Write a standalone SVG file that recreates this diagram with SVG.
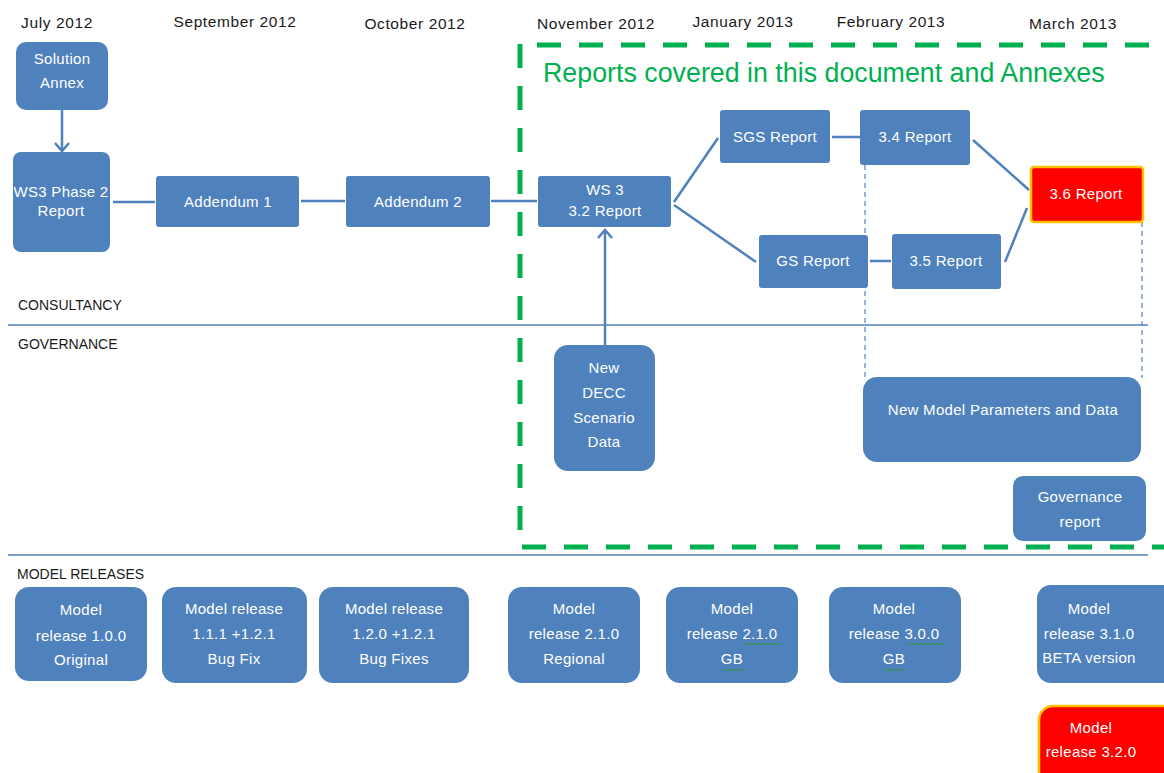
<svg xmlns="http://www.w3.org/2000/svg" width="1164" height="773" viewBox="0 0 1164 773">
<style>
.box{fill:#4F81BD;}
.red{fill:#FF0000;stroke:#FFC000;stroke-width:2.5;}
.t{font-family:"Liberation Sans",Arial,sans-serif;font-size:15px;fill:#FFFFFF;text-anchor:middle;letter-spacing:0.3px;}
.hdr{font-family:"Liberation Sans",Arial,sans-serif;font-size:15.5px;fill:#1a1a1a;text-anchor:middle;letter-spacing:0.6px;}
.lbl{font-family:"Liberation Sans",Arial,sans-serif;font-size:14px;fill:#1a1a1a;}
.con{stroke:#4F81BD;stroke-width:2.5;fill:none;}
.sep{stroke:#4F81BD;stroke-width:1.5;fill:none;}
.dash{stroke:#4F81BD;stroke-width:1.2;stroke-dasharray:5,4;fill:none;}
.green{stroke:#00B050;stroke-width:5;stroke-dasharray:24,18;fill:none;}
.sq{stroke:#2E9B2E;stroke-width:1;fill:none;}
</style>
<rect width="1164" height="773" fill="#FFFFFF"/>

<g id="headers">
<text class="hdr" x="57" y="28">July 2012</text>
<text class="hdr" x="235" y="27">September 2012</text>
<text class="hdr" x="415" y="29">October 2012</text>
<text class="hdr" x="596" y="29">November 2012</text>
<text class="hdr" x="743" y="27">January 2013</text>
<text class="hdr" x="891" y="27">February 2013</text>
<text class="hdr" x="1073" y="29">March 2013</text>
</g>

<g id="lanes">
<line class="sep" x1="8" y1="325" x2="1148" y2="325"/>
<line class="sep" x1="8" y1="555" x2="1148" y2="555"/>
<text class="lbl" x="18" y="310">CONSULTANCY</text>
<text class="lbl" x="18" y="349">GOVERNANCE</text>
<text class="lbl" x="17" y="579">MODEL RELEASES</text>
</g>

<g id="scope">
<line class="green" x1="520" y1="44" x2="520" y2="548"/>
<line class="green" x1="537" y1="45" x2="1164" y2="45"/>
<line class="green" x1="522" y1="547" x2="1164" y2="547"/>
<text x="543" y="82" font-family="Liberation Sans, Arial, sans-serif" font-size="26.8px" fill="#00B050">Reports covered in this document and Annexes</text>
</g>

<g id="connectors">
<line class="con" x1="62" y1="110" x2="62" y2="150"/>
<polyline class="con" points="55,143 62,151 69,143"/>
<line class="con" x1="113" y1="202" x2="155" y2="202"/>
<line class="con" x1="301" y1="201" x2="345" y2="201"/>
<line class="con" x1="491" y1="201" x2="537" y2="201"/>
<line class="con" x1="674" y1="202" x2="718" y2="138"/>
<line class="con" x1="674" y1="205" x2="756" y2="262"/>
<line class="con" x1="832" y1="137" x2="860" y2="137"/>
<line class="con" x1="870" y1="261" x2="891" y2="261"/>
<line class="con" x1="973" y1="140" x2="1029" y2="190"/>
<line class="con" x1="1005" y1="262" x2="1027" y2="208"/>
<line class="con" x1="605" y1="345" x2="605" y2="230"/>
<polyline class="con" points="598,238 605,230 612,238"/>
<line class="dash" x1="865" y1="165" x2="865" y2="378"/>
<line class="dash" x1="1142" y1="222" x2="1142" y2="378"/>
</g>

<g id="solution-annex">
<rect class="box" x="16" y="42" width="92" height="68" rx="10"/>
<text class="t" x="62" y="64">Solution</text>
<text class="t" x="62" y="88">Annex</text>
</g>
<g id="ws3-phase2">
<rect class="box" x="13" y="152" width="97" height="100" rx="8"/>
<text class="t" x="61" y="197">WS3 Phase 2</text>
<text class="t" x="61" y="216">Report</text>
</g>
<g id="addendum1">
<rect class="box" x="156" y="176" width="143" height="51" rx="3"/>
<text class="t" x="228" y="207">Addendum 1</text>
</g>
<g id="addendum2">
<rect class="box" x="346" y="176" width="144" height="51" rx="3"/>
<text class="t" x="418" y="207">Addendum 2</text>
</g>
<g id="ws3-32">
<rect class="box" x="538" y="176" width="133" height="51" rx="3"/>
<text class="t" x="605" y="195">WS 3</text>
<text class="t" x="605" y="216">3.2 Report</text>
</g>
<g id="sgs">
<rect class="box" x="720" y="110" width="110" height="53" rx="3"/>
<text class="t" x="775" y="142">SGS Report</text>
</g>
<g id="r34">
<rect class="box" x="860" y="110" width="110" height="55" rx="3"/>
<text class="t" x="915" y="142">3.4 Report</text>
</g>
<g id="r36">
<rect class="red" x="1031" y="167" width="112" height="55" rx="3"/>
<text class="t" x="1086" y="199">3.6 Report</text>
</g>
<g id="gs">
<rect class="box" x="759" y="235" width="109" height="53" rx="3"/>
<text class="t" x="813" y="266">GS Report</text>
</g>
<g id="r35">
<rect class="box" x="892" y="234" width="109" height="55" rx="3"/>
<text class="t" x="946" y="266">3.5 Report</text>
</g>

<g id="decc">
<rect class="box" x="554" y="345" width="101" height="126" rx="14"/>
<text class="t" x="604" y="373">New</text>
<text class="t" x="604" y="398">DECC</text>
<text class="t" x="604" y="423">Scenario</text>
<text class="t" x="604" y="447">Data</text>
</g>
<g id="new-model-params">
<rect class="box" x="863" y="377" width="278" height="85" rx="14"/>
<text class="t" x="1003" y="415">New Model Parameters and Data</text>
</g>
<g id="governance-report">
<rect class="box" x="1013" y="476" width="133" height="65" rx="10"/>
<text class="t" x="1080" y="502">Governance</text>
<text class="t" x="1080" y="527">report</text>
</g>

<g id="mr100">
<rect class="box" x="15" y="587" width="132" height="94" rx="14"/>
<text class="t" x="81" y="615">Model</text>
<text class="t" x="81" y="641">release 1.0.0</text>
<text class="t" x="81" y="665">Original</text>
</g>
<g id="mr111">
<rect class="box" x="162" y="587" width="145" height="96" rx="14"/>
<text class="t" x="234" y="614">Model release</text>
<text class="t" x="234" y="639">1.1.1 +1.2.1</text>
<text class="t" x="234" y="664">Bug Fix</text>
</g>
<g id="mr120">
<rect class="box" x="319" y="587" width="150" height="96" rx="14"/>
<text class="t" x="394" y="614">Model release</text>
<text class="t" x="394" y="639">1.2.0 +1.2.1</text>
<text class="t" x="394" y="664">Bug Fixes</text>
</g>
<g id="mr210r">
<rect class="box" x="508" y="587" width="132" height="96" rx="14"/>
<text class="t" x="574" y="614">Model</text>
<text class="t" x="574" y="639">release 2.1.0</text>
<text class="t" x="574" y="664">Regional</text>
</g>
<g id="mr210gb">
<rect class="box" x="666" y="587" width="132" height="96" rx="14"/>
<text class="t" x="732" y="614">Model</text>
<text class="t" x="732" y="639">release 2.1.0</text>
<text class="t" x="732" y="664">GB</text>
<path class="sq" d="M745,645 l2,-2 l2,2 l2,-2 l2,2 l2,-2 l2,2 l2,-2 l2,2 l2,-2 l2,2 l2,-2 l2,2 l2,-2 l2,2 l2,-2 l2,2 l2,-2 l2,2"/>
<path class="sq" d="M723,671 l2,-2 l2,2 l2,-2 l2,2 l2,-2 l2,2 l2,-2 l2,2 l2,-2 l2,2"/>
</g>
<g id="mr300">
<rect class="box" x="829" y="587" width="132" height="96" rx="14"/>
<text class="t" x="894" y="614">Model</text>
<text class="t" x="894" y="639">release 3.0.0</text>
<text class="t" x="894" y="664">GB</text>
<path class="sq" d="M907,645 l2,-2 l2,2 l2,-2 l2,2 l2,-2 l2,2 l2,-2 l2,2 l2,-2 l2,2 l2,-2 l2,2 l2,-2 l2,2 l2,-2 l2,2 l2,-2 l2,2"/>
<path class="sq" d="M885,671 l2,-2 l2,2 l2,-2 l2,2 l2,-2 l2,2 l2,-2 l2,2 l2,-2 l2,2"/>
</g>
<g id="mr310">
<rect class="box" x="1037" y="585" width="140" height="98" rx="14"/>
<text class="t" x="1089" y="614">Model</text>
<text class="t" x="1089" y="639">release 3.1.0</text>
<text class="t" x="1089" y="663">BETA version</text>
</g>
<g id="mr320">
<rect class="red" x="1039" y="706" width="140" height="80" rx="14"/>
<text class="t" x="1091" y="733">Model</text>
<text class="t" x="1091" y="757">release 3.2.0</text>
</g>
</svg>
